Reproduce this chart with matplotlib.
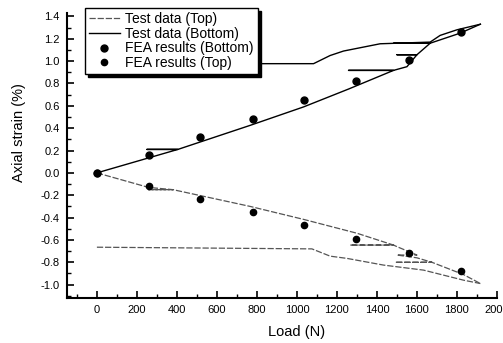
import matplotlib
matplotlib.use("Agg")
import matplotlib.pyplot as plt
from matplotlib.ticker import MultipleLocator

plt.rcParams['font.family'] = ['Liberation Sans', 'DejaVu Sans']

# test data, bottom gauge (tension side), with unload/reload holds
bot_load = [0, 405, 250, 405, 766, 1033, 1258, 1483, 1258, 1483, 1550, 1600, 1500, 1600,
            1666, 1483, 1666, 1816, 1917]
bot_strain = [0, 0.21, 0.21, 0.21, 0.425, 0.59, 0.75, 0.917, 0.917, 0.917, 0.95, 1.057, 1.057, 1.057,
              1.16, 1.16, 1.16, 1.25, 1.33]
bot2_load = [0, 1083, 1166, 1233, 1416, 1666, 1716, 1800, 1917]
bot2_strain = [0.977, 0.977, 1.05, 1.09, 1.155, 1.17, 1.23, 1.28, 1.33]

# test data, top gauge (compression side)
top_load = [0, 258, 380, 258, 380, 766, 1033, 1300, 1483, 1266, 1483, 1500, 1600, 1500, 1600,
            1675, 1491, 1675, 1833, 1917]
top_strain = [0, -0.13, -0.15, -0.15, -0.15, -0.30, -0.416, -0.54, -0.646, -0.646, -0.646, -0.66,
              -0.735, -0.735, -0.76, -0.80, -0.80, -0.80, -0.91, -0.99]
top2_load = [0, 1075, 1166, 1250, 1433, 1633, 1833, 1917]
top2_strain = [-0.665, -0.68, -0.745, -0.765, -0.825, -0.87, -0.96, -0.99]

# FEA
fea_load = [0, 258, 516, 778, 1036, 1297, 1558, 1820]
fea_bot = [0, 0.158, 0.32, 0.48, 0.65, 0.82, 1.01, 1.26]
fea_top = [0, -0.12, -0.235, -0.352, -0.467, -0.595, -0.72, -0.875]

fig = plt.figure(figsize=(5.03, 3.43), dpi=100)
ax = fig.add_axes([0.133, 0.131, 0.855, 0.831])

gray_style = dict(color='#555555', lw=0.9, ls=(0, (5, 1.5)))
ax.plot(top_load, top_strain, label='Test data (Top)', **gray_style)
ax.plot(top2_load, top2_strain, **gray_style)
ax.plot(bot_load, bot_strain, color='black', lw=1.0, label='Test data (Bottom)')
ax.plot(bot2_load, bot2_strain, color='black', lw=1.0)
ax.plot(fea_load, fea_bot, 'o', color='black', ms=5, ls='none', label='FEA results (Bottom)')
ax.plot(fea_load, fea_top, 'o', color='black', ms=4.5, ls='none', label='FEA results (Top)')

ax.set_xlim(-150, 2000)
ax.set_ylim(-1.12, 1.43)
ax.xaxis.set_minor_locator(MultipleLocator(100))
ax.yaxis.set_minor_locator(MultipleLocator(0.1))
ax.set_xticks(range(0, 2001, 200))
ax.set_yticks([-1.0, -0.8, -0.6, -0.4, -0.2, 0.0, 0.2, 0.4, 0.6, 0.8, 1.0, 1.2, 1.4])
ax.set_yticklabels(['-1.0', '-0.8', '-0.6', '-0.4', '-0.2', '0.0', '0.2', '0.4', '0.6', '0.8',
                    '1.0', '1.2', '1.4'])

for s in ('top', 'right'):
    ax.spines[s].set_visible(False)
for s in ('left', 'bottom'):
    ax.spines[s].set_linewidth(1.5)
ax.tick_params(which='major', direction='in', length=5, width=1.2, labelsize=8, pad=5)
ax.tick_params(which='minor', direction='in', length=3, width=1.0)

ax.set_xlabel('Load (N)', fontsize=10.5)
ax.set_ylabel('Axial strain (%)', fontsize=10.5)
ax.xaxis.set_label_coords(0.535, -0.095)
ax.yaxis.set_label_coords(-0.095, 0.582)

leg = fig.legend(loc='upper left', bbox_to_anchor=(0.169, 0.977), fontsize=10,
                 frameon=True, fancybox=False, edgecolor='black', framealpha=1,
                 shadow={'color': 'black', 'alpha': 1}, handlelength=2.2,
                 borderpad=0.3, labelspacing=0.05, handletextpad=0.4, borderaxespad=0)
leg.get_frame().set_linewidth(1.0)

fig.savefig('out.png', dpi=100)
